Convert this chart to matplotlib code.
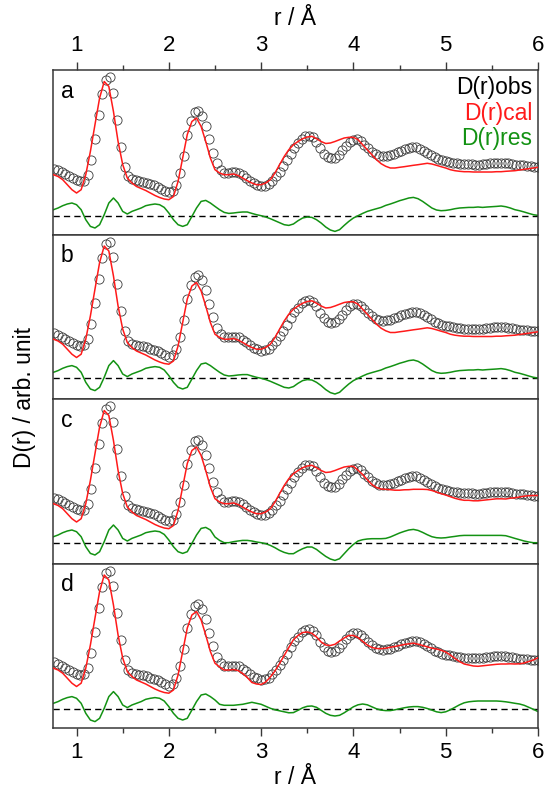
import matplotlib
matplotlib.use("Agg")
import matplotlib.pyplot as plt
import numpy as np

plt.rcParams["font.family"] = ["Liberation Sans", "DejaVu Sans"]

# experimental D(r), shared by all four fits (arb. unit), every 0.04 Å from 0.76 Å
d_obs = [
    65.7, 64.5, 62.5, 60.5, 58.5, 56.5, 54.5, 53.2, 54, 60,
    75, 96, 120, 141, 155, 157.5, 142, 115, 88, 68,
    58.5, 55.5, 54.2, 53.4, 52.8, 51.8, 50.5, 49.3, 47.8, 46,
    44, 42.5, 44, 50, 62, 79, 100, 114, 122.5, 124,
    119, 109, 95.5, 82, 71.5, 65, 62, 61.8, 62.3, 62.5,
    61.6, 59.5, 56.7, 53.8, 51.3, 49.6, 48.5, 48.8, 50.5, 53.8,
    58.2, 63, 68.5, 74.5, 81, 87, 91.5, 96, 98.5, 99,
    97.5, 93, 86.5, 81, 77.5, 76.5, 77, 80, 84.5, 89,
    92.8, 95, 95.2, 93.3, 90, 86.5, 83, 80.5, 79, 78.5,
    78.6, 79.5, 80.7, 82.2, 83.8, 85.3, 86.5, 87.4, 87.2, 85.8,
    84, 82, 79.6, 77.4, 75.6, 74.3, 73.5, 72.7, 71.9, 71.3,
    70.9, 70.5, 70.5, 70.2, 70, 70, 70.5, 70.9, 71.3, 71.8,
    72, 72, 71.6, 71.2, 70.6, 70, 69.5, 69.1, 68.7, 68.3,
    68, 68,
]
r_obs = 0.76 + 0.04 * np.arange(len(d_obs))

# model D(r) of fits a-d, every 0.05 Å from 0.75 Å
cal_a = [
    59.8, 58, 54.8, 49.8, 44.8, 41.5, 44.8, 59.8, 83, 110,
    136.5, 153, 148, 123, 93, 70, 56.5, 51.5, 48, 46,
    44, 41.5, 39, 37, 35.5, 34.8, 38, 53, 76.5, 100,
    113, 116.5, 108, 93, 76.5, 64.8, 61.5, 59.8, 59.8, 60.5,
    59, 56.5, 53.8, 51.5, 49.8, 49.8, 51.5, 54.8, 61.5, 69.8,
    78, 84.8, 89.8, 93, 95.8, 97.5, 98.2, 95.8, 93, 91,
    91.5, 93, 94.8, 96.5, 97.2, 97.2, 94.8, 89.8, 84.8, 79.8,
    74.8, 70.8, 68.2, 66.5, 66.5, 67.2, 67.8, 68.5, 69.2, 69.8,
    70.5, 71.2, 70.5, 69.2, 67.8, 66.5, 64.8, 63.8, 63.2, 62.8,
    62.8, 62.5, 62.5, 62.5, 62.5, 62.5, 62.8, 62.8, 63.2, 63.5,
    63.8, 64.5, 65.2, 65.8, 66.5, 67.2,
]
cal_b = list(cal_a)
cal_c = [
    59.8, 58, 54.8, 49.8, 44.8, 41.5, 44.8, 59.8, 83, 110,
    136.5, 153, 148, 123, 93, 70, 56.5, 51.5, 48, 46,
    44, 41.5, 39, 37, 35.5, 34.8, 38, 53, 76.5, 100,
    113, 116.5, 108, 93, 76.5, 64.8, 61.5, 59.8, 59.8, 60.5,
    59, 56.5, 53.8, 51.5, 49.8, 49.8, 51.5, 54.8, 61.5, 69.8,
    78, 84.8, 89.8, 93, 95.8, 97.5, 98.2, 95.8, 93, 91,
    91.5, 93, 94.8, 96.5, 97.2, 97.2, 93.3, 89, 83.8, 79,
    76, 74.5, 74.2, 73.8, 73.3, 73.3, 73.7, 73.8, 74.2, 74.2,
    74.2, 74, 73, 71.5, 69.8, 68.5, 66.8, 65.2, 64, 63.2,
    63.2, 62.7, 62.7, 63.2, 63.7, 64.2, 64.7, 64.7, 64.5, 65.3,
    65.7, 66.5, 67.3, 67.8, 68, 68,
]
cal_d = [
    59.8, 58, 54.8, 49.8, 44.8, 41.5, 44.8, 59.8, 83, 110,
    136.5, 153, 148, 123, 93, 70, 56.5, 51.5, 48, 46,
    44, 41.5, 39, 37, 35.5, 34.8, 38, 53, 76.5, 100,
    113, 116.5, 108, 93, 76.5, 64.8, 61, 58, 58, 58.5,
    57.5, 54.5, 50.5, 45.5, 44, 43.5, 46, 51, 57, 64.5,
    72.5, 80.5, 88.3, 92.5, 95.5, 96, 94.7, 91, 86, 83,
    82.5, 83.7, 87, 90, 92.5, 92.5, 90.5, 86.7, 83, 80.5,
    79.5, 79.3, 79.8, 80.8, 81.5, 82.5, 83.5, 84.2, 84.8, 83.8,
    82.5, 81.2, 79.8, 79, 77.8, 76, 73, 69.5, 66.5, 64,
    63, 62, 61.7, 62.2, 62.7, 63.2, 63.7, 64, 64, 64.2,
    64, 64.2, 65, 66.5, 68, 70.3,
]

# residuals D(r)obs - D(r)cal of fits a-d, same grid as the models
res_a = [
    6, 7.7, 10, 11.7, 12.7, 11, 6, -4, -10.7, -12.3,
    -9, 1, 12.7, 17.7, 12.7, 4.3, 1.7, 4.3, 6, 7.7,
    10, 11, 11.7, 11, 8.3, 2.7, -4, -9, -10.7, -9,
    -0.7, 7.7, 14.3, 15.3, 12.7, 9.3, 6, 3.3, 2.3, 2.7,
    3.3, 3.7, 3.7, 2.3, 1, 0, -1.3, -3, -5, -7,
    -9, -9.7, -8.3, -5, -2.3, -1.3, -1.7, -4, -7.3, -11.3,
    -14.3, -15.7, -14, -9.7, -5.7, -2.3, 0, 2.3, 4.3, 5.7,
    7, 8.3, 10.3, 11.7, 13.3, 15, 16.3, 17.7, 18.3, 17,
    14.3, 11, 7.7, 5.7, 5, 5.3, 6, 7, 7.7, 8,
    8.3, 8.3, 8.7, 8.3, 8.7, 9, 9.3, 9.7, 9, 7.7,
    6, 5, 3.7, 2.3, 1, 0.3,
]
res_b = list(res_a)
res_c = [
    6, 7.7, 10, 11.7, 12.7, 11, 6, -4, -10.7, -12.3,
    -9, 1, 12.7, 17.7, 12.7, 4.3, 1.7, 4.3, 6, 7.7,
    10, 11, 11.7, 11, 8.3, 2.7, -4, -9, -10.7, -9,
    -0.7, 7.7, 14.3, 15.3, 12.7, 5.7, 2.3, 0, 0, 1,
    1.7, 2.3, 2.3, 1.7, 0.7, 0, -1, -2.7, -5, -7.7,
    -9.7, -11, -11, -8.3, -6, -4.3, -4.3, -6.7, -10.3, -13.7,
    -16.3, -17.7, -16, -11, -6, -1.7, 1.7, 3, 3.7, 4,
    4, 4, 4.3, 5.7, 7.7, 9.7, 11.3, 12.7, 13.3, 12.3,
    10.3, 8, 6, 5, 4.7, 5, 5.7, 6.3, 7, 7.3,
    7.3, 7.3, 7.3, 7.3, 7.3, 7.3, 7.3, 7.3, 7, 5.7,
    4.3, 3, 1.7, 0.7, 0, 0,
]
res_d = [
    6, 7.7, 10, 11.7, 12.7, 11, 6, -4, -10.7, -12.3,
    -9, 1, 12.7, 17.7, 12.7, 4.3, 1.7, 4.3, 6, 7.7,
    10, 11, 11.7, 11, 8.3, 2.7, -4, -9, -10.7, -9,
    -0.7, 7.7, 14.3, 15.3, 12.7, 9.3, 5, 4, 4, 4,
    4.5, 5, 6, 7, 6, 5, 3, 1, -0.5, -1.5,
    -2.5, -3.5, -3.3, -1, 1.5, 3, 3.3, 2, -1, -4,
    -6, -6.7, -6, -3.5, -0.5, 2.5, 4.5, 5.3, 4.5, 2.5,
    0.5, -0.8, -1.3, -1.3, -0.5, 0.5, 1.5, 2.3, 2.7, 2.7,
    2, 0.8, -0.8, -2.5, -3.3, -2.5, -0.5, 2, 4.5, 6.5,
    7.5, 8, 8.3, 8.3, 8.3, 8.3, 8.3, 8, 7.5, 6.8,
    6, 5.3, 4, 2, 0, -2.3,
]
r_fit = 0.75 + 0.05 * np.arange(len(cal_a))

panel_names = ["a", "b", "c", "d"]
cal_sets = [cal_a, cal_b, cal_c, cal_d]
res_sets = [res_a, res_b, res_c, res_d]
res_offsets = [18.8, 20.7, 20.8, 18.7]

major_ticks = [1, 2, 3, 4, 5, 6]
minor_ticks = [1.5, 2.5, 3.5, 4.5, 5.5]

W, H = 550, 796
fig = plt.figure(figsize=(W / 100, H / 100), dpi=100)

ax_left, ax_right = 53 / W, 538 / W
top_px, panel_px = 70, 164.5
spine_col = "#383838"
red = "#ff1a1a"
green = "#139213"

axes = []
for i, name in enumerate(panel_names):
    y0 = 1 - (top_px + (i + 1) * panel_px) / H
    ax = fig.add_axes([ax_left, y0, ax_right - ax_left, panel_px / H])
    axes.append(ax)

    off = res_offsets[i]
    ax.axhline(off, color="k", lw=1.0, ls=(0, (4.5, 3.0)), zorder=1)
    ax.plot(r_fit, np.asarray(res_sets[i]) + off, color=green, lw=1.1, zorder=2)
    ax.plot(r_obs, d_obs, "o", ms=6.6, mfc="none", mec="#3a3a3a", mew=0.6, zorder=3)
    ax.plot(r_fit, cal_sets[i], color=red, lw=1.1, zorder=4)

    ax.set_xlim(0.745, 6.0)
    ax.set_ylim(0, 164.5)
    ax.set_yticks([])
    ax.set_xticks(major_ticks)
    ax.set_xticks(minor_ticks, minor=True)
    ax.set_xticklabels([str(t) for t in major_ticks])
    for sp in ax.spines.values():
        sp.set_color(spine_col)
        sp.set_linewidth(1.1)

    ax.tick_params(axis="x", which="both", direction="out", color=spine_col,
                   labelsize=16, pad=4, top=False, bottom=False,
                   labeltop=False, labelbottom=False)
    ax.tick_params(axis="x", which="major", length=6, width=1.0)
    ax.tick_params(axis="x", which="minor", length=3.5, width=1.0)

    ax.text(0.016, 0.83, name, transform=ax.transAxes, fontsize=16.5,
            ha="left", va="baseline")

# r axis on top of the first panel and below the last one
axes[0].tick_params(axis="x", which="both", top=True, labeltop=True)
axes[0].xaxis.set_label_position("top")
axes[0].set_xlabel("r / Å", fontsize=16.5, labelpad=7)
axes[-1].tick_params(axis="x", which="both", bottom=True, labelbottom=True)
axes[-1].set_xlabel("r / Å", fontsize=16.5, labelpad=2)

fig.text(25 / W, 1 - 398 / H, "D(r) / arb. unit", rotation=90,
         fontsize=16.5, ha="center", va="center")

legend_rows = [("D(r)obs", "black", 0.854), ("D(r)cal", red, 0.698),
               ("D(r)res", green, 0.542)]
for label, col, yy in legend_rows:
    axes[0].text(0.988, yy, label, color=col, fontsize=16.5,
                 transform=axes[0].transAxes, ha="right", va="baseline")

fig.savefig("out.png", dpi=100)
